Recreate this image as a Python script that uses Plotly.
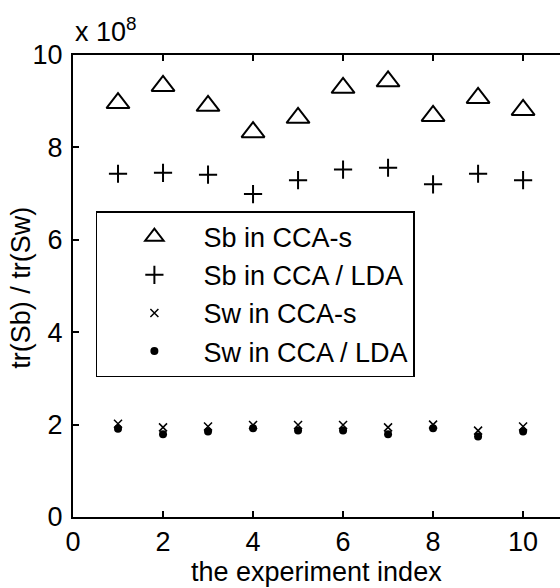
import plotly.graph_objects as go

# experiment index
experiments = [1, 2, 3, 4, 5, 6, 7, 8, 9, 10]
# values (real units, axis shows them in units of 1e8)
sb_ccas = [8.96e8, 9.33e8, 8.90e8, 8.33e8, 8.64e8, 9.29e8, 9.43e8, 8.68e8, 9.07e8, 8.81e8]
sb_cca_lda = [7.43e8, 7.45e8, 7.41e8, 6.99e8, 7.29e8, 7.52e8, 7.56e8, 7.20e8, 7.43e8, 7.29e8]
sw_ccas = [2.02e8, 1.94e8, 1.96e8, 1.99e8, 1.99e8, 1.99e8, 1.94e8, 2.00e8, 1.87e8, 1.96e8]
sw_cca_lda = [1.91e8, 1.79e8, 1.85e8, 1.92e8, 1.87e8, 1.87e8, 1.79e8, 1.92e8, 1.74e8, 1.85e8]

series_names = ["Sb in CCA-s", "Sb in CCA / LDA", "Sw in CCA-s", "Sw in CCA / LDA"]
y_tickvals = [0, 2e8, 4e8, 6e8, 8e8, 10e8]
y_ticktext = ["0", "2", "4", "6", "8", "10"]
x_tickvals = [0, 2, 4, 6, 8, 10]
x_title = "the experiment index"
y_title = "tr(Sb) / tr(Sw)"

FONT = "Liberation Sans"
TXT = 27
TICK = 27

fig = go.Figure()
fig.add_trace(go.Scatter(x=experiments, y=sb_ccas, mode="markers", name=series_names[0],
                         legendgroup="a",
                         marker=dict(symbol="triangle-up-open", size=20, color="black",
                                     line=dict(color="black", width=2))))
fig.add_trace(go.Scatter(x=experiments, y=sb_cca_lda, mode="markers", name=series_names[1],
                         legendgroup="b",
                         marker=dict(symbol="cross-thin-open", size=13, color="black",
                                     line=dict(color="black", width=2))))
fig.add_trace(go.Scatter(x=experiments, y=sw_ccas, mode="markers", name=series_names[2],
                         legendgroup="c",
                         marker=dict(symbol="x-thin-open", size=8, color="black",
                                     line=dict(color="black", width=1.5))))
fig.add_trace(go.Scatter(x=experiments, y=sw_cca_lda, mode="markers", name=series_names[3],
                         legendgroup="d",
                         marker=dict(symbol="circle", size=8, color="black",
                                     line=dict(width=0))))

fig.update_layout(
    width=560, height=588,
    margin=dict(l=73, r=0, t=55, b=71),
    paper_bgcolor="white", plot_bgcolor="white",
    font=dict(family=FONT, size=TICK, color="black"),
    showlegend=True,
    legend=dict(x=0.047, y=0.662, xanchor="left", yanchor="top",
                bgcolor="white", bordercolor="black", borderwidth=1.5,
                font=dict(family=FONT, size=TXT, color="black"),
                itemwidth=88, indentation=8, tracegroupgap=0,
                itemsizing="trace"),
    xaxis=dict(range=[0, 10.82], tickvals=x_tickvals, ticks="inside", ticklen=6,
               tickwidth=1.5, tickcolor="black", showline=True, linecolor="black",
               linewidth=2, mirror="ticks", showgrid=False, zeroline=False,
               ticklabelstandoff=0),
    yaxis=dict(range=[0, 10e8], tickvals=y_tickvals, ticktext=y_ticktext, ticks="inside",
               ticklen=6, tickwidth=1.5, tickcolor="black", showline=True,
               linecolor="black", linewidth=2, mirror=False, showgrid=False,
               zeroline=False, ticklabelstandoff=3),
)
fig.add_annotation(text=x_title, xref="paper", yref="paper", x=0.5, y=-0.156,
                   xanchor="center", yanchor="bottom", showarrow=False,
                   font=dict(family=FONT, size=TXT, color="black"))
fig.add_annotation(text=y_title, xref="paper", yref="paper", x=-0.107, y=0.496,
                   xanchor="center", yanchor="middle", textangle=-90, showarrow=False,
                   font=dict(family=FONT, size=TXT, color="black"))
fig.add_annotation(text="x 10<sup>8</sup>", xref="paper", yref="paper", x=0, y=1,
                   xanchor="left", yanchor="bottom", yshift=6, showarrow=False,
                   font=dict(family=FONT, size=27, color="black"))

fig.write_html("out.html")
